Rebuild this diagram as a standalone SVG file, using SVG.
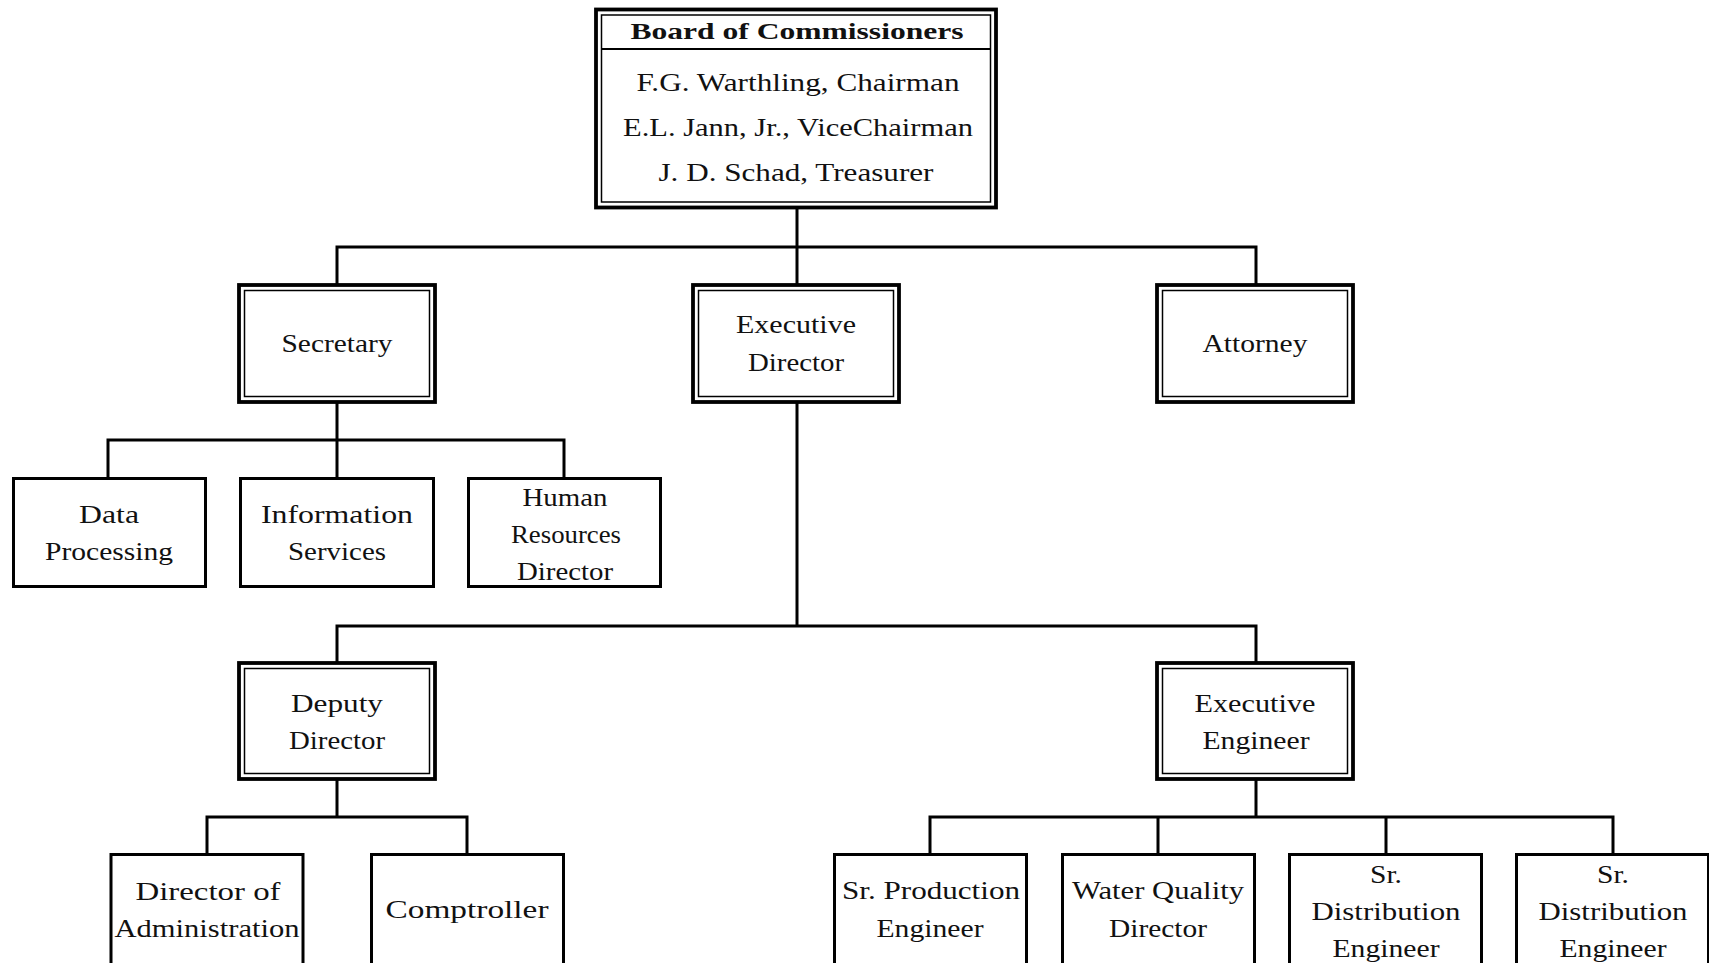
<svg xmlns="http://www.w3.org/2000/svg" width="1709" height="963" viewBox="0 0 1709 963">
<style>
.bg{fill:#ffffff}
.outer{fill:#ffffff;stroke:#000;stroke-width:3.8}
.inner{fill:none;stroke:#000;stroke-width:1.5}
.box{fill:#ffffff;stroke:#000;stroke-width:3}
.conn{fill:none;stroke:#000;stroke-width:3;stroke-linecap:square}
text{font-family:"Liberation Serif","Times New Roman",serif;font-size:26px;fill:#111;text-anchor:middle}
.title{font-weight:bold;font-size:24px}
</style>
<rect class="bg" x="0" y="0" width="1709" height="963"/>
<g id="connectors">
<path class="conn" d="M797,209 V283 M337,247 H1256 M337,247 V283 M1256,247 V283"/>
<path class="conn" d="M337,404 V477 M108,440 H564 M108,440 V477 M564,440 V477"/>
<path class="conn" d="M797,404 V626 M337,626 H1256 M337,626 V661 M1256,626 V661"/>
<path class="conn" d="M337,781 V817 M207,817 H467 M207,817 V853 M467,817 V853"/>
<path class="conn" d="M1256,781 V817 M930,817 H1613 M930,817 V853 M1158,817 V853 M1386,817 V853 M1613,817 V853"/>
</g>
<g id="board">
<rect class="outer" x="596" y="9.5" width="400" height="198"/>
<rect class="inner" x="601.5" y="15" width="389" height="187"/>
<line x1="601.5" y1="49" x2="990.5" y2="49" stroke="#000" stroke-width="2"/>
<text class="title" x="797" y="39" textLength="333" lengthAdjust="spacingAndGlyphs">Board of Commissioners</text>
<text x="798" y="91" textLength="323" lengthAdjust="spacingAndGlyphs">F.G. Warthling, Chairman</text>
<text x="798" y="136" textLength="350" lengthAdjust="spacingAndGlyphs">E.L. Jann, Jr., ViceChairman</text>
<text x="796" y="181" textLength="275" lengthAdjust="spacingAndGlyphs">J. D. Schad, Treasurer</text>
</g>
<g id="secretary">
<rect class="outer" x="239" y="285" width="196" height="117"/>
<rect class="inner" x="244.5" y="290.5" width="185" height="106"/>
<text x="337" y="352" textLength="111" lengthAdjust="spacingAndGlyphs">Secretary</text>
</g>
<g id="executive-director">
<rect class="outer" x="693" y="285" width="206" height="117"/>
<rect class="inner" x="698.5" y="290.5" width="195" height="106"/>
<text x="796" y="333" textLength="120" lengthAdjust="spacingAndGlyphs">Executive</text>
<text x="796" y="371" textLength="96" lengthAdjust="spacingAndGlyphs">Director</text>
</g>
<g id="attorney">
<rect class="outer" x="1157" y="285" width="196" height="117"/>
<rect class="inner" x="1162.5" y="290.5" width="185" height="106"/>
<text x="1255" y="352" textLength="105" lengthAdjust="spacingAndGlyphs">Attorney</text>
</g>
<g id="data-processing">
<rect class="box" x="13.5" y="478.5" width="192" height="108"/>
<text x="109" y="523" textLength="60" lengthAdjust="spacingAndGlyphs">Data</text>
<text x="109" y="560" textLength="128" lengthAdjust="spacingAndGlyphs">Processing</text>
</g>
<g id="information-services">
<rect class="box" x="240.5" y="478.5" width="193" height="108"/>
<text x="337" y="523" textLength="152" lengthAdjust="spacingAndGlyphs">Information</text>
<text x="337" y="560" textLength="98" lengthAdjust="spacingAndGlyphs">Services</text>
</g>
<g id="human-resources-director">
<rect class="box" x="468.5" y="478.5" width="192" height="108"/>
<text x="565" y="506" textLength="85" lengthAdjust="spacingAndGlyphs">Human</text>
<text x="566" y="543" textLength="110" lengthAdjust="spacingAndGlyphs">Resources</text>
<text x="565" y="580" textLength="96" lengthAdjust="spacingAndGlyphs">Director</text>
</g>
<g id="deputy-director">
<rect class="outer" x="239" y="663" width="196" height="116"/>
<rect class="inner" x="244.5" y="668.5" width="185" height="105"/>
<text x="337" y="712" textLength="92" lengthAdjust="spacingAndGlyphs">Deputy</text>
<text x="337" y="749" textLength="96" lengthAdjust="spacingAndGlyphs">Director</text>
</g>
<g id="executive-engineer">
<rect class="outer" x="1157" y="663" width="196" height="116"/>
<rect class="inner" x="1162.5" y="668.5" width="185" height="105"/>
<text x="1255" y="712" textLength="121" lengthAdjust="spacingAndGlyphs">Executive</text>
<text x="1256" y="749" textLength="107" lengthAdjust="spacingAndGlyphs">Engineer</text>
</g>
<g id="director-of-administration">
<rect class="box" x="111" y="854.5" width="192" height="200"/>
<text x="208" y="900" textLength="145" lengthAdjust="spacingAndGlyphs">Director of</text>
<text x="207" y="937" textLength="185" lengthAdjust="spacingAndGlyphs">Administration</text>
</g>
<g id="comptroller">
<rect class="box" x="371.5" y="854.5" width="192" height="200"/>
<text x="467" y="918" textLength="163" lengthAdjust="spacingAndGlyphs">Comptroller</text>
</g>
<g id="sr-production-engineer">
<rect class="box" x="834.5" y="854.5" width="192" height="200"/>
<text x="931" y="899" textLength="178" lengthAdjust="spacingAndGlyphs">Sr. Production</text>
<text x="930" y="937" textLength="107" lengthAdjust="spacingAndGlyphs">Engineer</text>
</g>
<g id="water-quality-director">
<rect class="box" x="1062.5" y="854.5" width="192" height="200"/>
<text x="1158" y="899" textLength="172" lengthAdjust="spacingAndGlyphs">Water Quality</text>
<text x="1158" y="937" textLength="98" lengthAdjust="spacingAndGlyphs">Director</text>
</g>
<g id="sr-distribution-engineer-1">
<rect class="box" x="1289.5" y="854.5" width="192" height="200"/>
<text x="1386" y="883" textLength="32" lengthAdjust="spacingAndGlyphs">Sr.</text>
<text x="1386" y="920" textLength="149" lengthAdjust="spacingAndGlyphs">Distribution</text>
<text x="1386" y="957" textLength="107" lengthAdjust="spacingAndGlyphs">Engineer</text>
</g>
<g id="sr-distribution-engineer-2">
<rect class="box" x="1516.5" y="854.5" width="192" height="200"/>
<text x="1613" y="883" textLength="32" lengthAdjust="spacingAndGlyphs">Sr.</text>
<text x="1613" y="920" textLength="149" lengthAdjust="spacingAndGlyphs">Distribution</text>
<text x="1613" y="957" textLength="107" lengthAdjust="spacingAndGlyphs">Engineer</text>
</g>
</svg>
